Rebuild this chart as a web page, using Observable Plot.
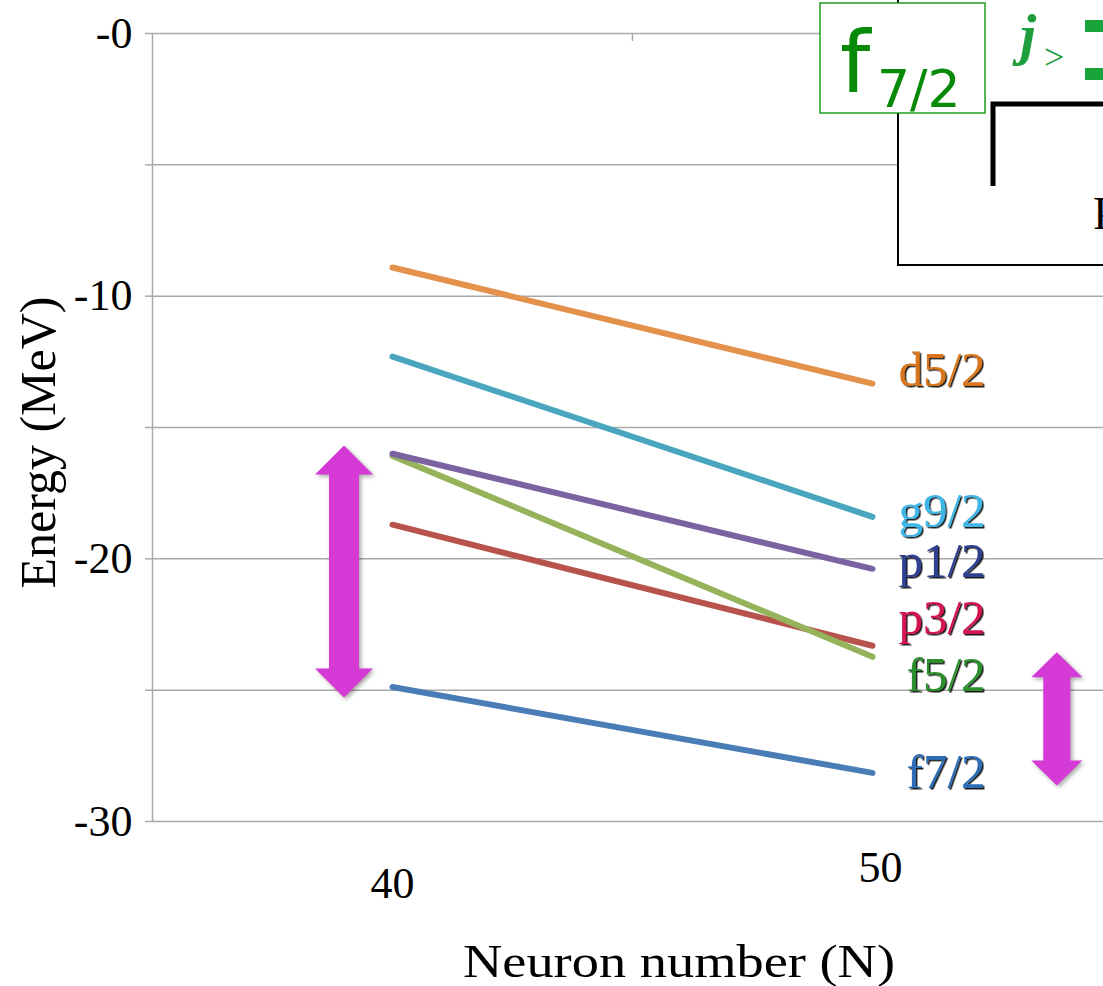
<!DOCTYPE html>
<html>
<head>
<meta charset="utf-8">
<script src="https://cdn.jsdelivr.net/npm/d3@7"></script>
<script src="https://cdn.jsdelivr.net/npm/@observablehq/plot@0.6"></script>
<style>
  html, body { margin: 0; padding: 0; background: #fff; }
  #chart svg { display: block; }
</style>
</head>
<body>
<div id="chart"></div>
<script>
// ---------- data ----------
const neutronNumbers = [40, 50];
const orbitals   = ["f7/2", "p3/2", "f5/2", "p1/2", "g9/2", "d5/2"];
const energyN40  = [-24.88, -18.70, -16.08, -16.00, -12.30, -8.91];
const energyN50  = [-28.15, -23.31, -23.73, -20.38, -18.40, -13.33];
const yTickValues = [-30, -25, -20, -15, -10, -5, 0];
const yTickLabels = ["-30", "", "-20", "", "-10", "", "-0"];
const xTickLabels = ["40", "50"];
const xTitle = "Neuron number (N)";
const yTitle = "Energy (MeV)";
// spin-orbit gap arrows (N position, upper energy, lower energy)
const gapArrowN      = [39.0, 53.85];
const gapArrowTop    = [-15.70, -23.58];
const gapArrowBottom = [-25.30, -28.65];

// ---------- styles ----------
const lineColors  = ["#4a7db5", "#b8524c", "#94b35a", "#7b63a1", "#4aa6bd", "#e3914b"];
const labelColors = ["#2e6db5", "#d3134f", "#2d8f2d", "#2e3f8f", "#41b6e6", "#d9751a"];
const labelNudge  = [-1, -27, 19, -8, -5, -13];   // px vertical offsets of end labels
const arrowSizes  = [{head: 58, headLen: 29, shaft: 30}, {head: 51, headLen: 25, shaft: 27}];
const serif = "'Liberation Serif', 'Times New Roman', serif";
const sans = "'DejaVu Sans', sans-serif";

// build tidy rows
const rows = [];
orbitals.forEach((o, i) => {
  rows.push({orbital: o, N: neutronNumbers[0], E: energyN40[i], order: i});
  rows.push({orbital: o, N: neutronNumbers[1], E: energyN50[i], order: i});
});
const yLabelFor = new Map(yTickValues.map((v, i) => [v, yTickLabels[i]]));

// custom mark: magenta double arrows
const gapArrows = (index, scales) => {
  const g = d3.create("svg:g")
    .attr("fill", "#d63ad6")
    .style("filter", "drop-shadow(2px 2px 2px rgba(0,0,0,0.35))");
  gapArrowN.forEach((n, i) => {
    const s = arrowSizes[i];
    const cx = scales.x(n), yt = scales.y(gapArrowTop[i]), yb = scales.y(gapArrowBottom[i]);
    const hw = s.head / 2, sw = s.shaft / 2, hl = s.headLen;
    const d = `M${cx},${yt}L${cx + hw},${yt + hl}L${cx + sw},${yt + hl}L${cx + sw},${yb - hl}` +
              `L${cx + hw},${yb - hl}L${cx},${yb}L${cx - hw},${yb - hl}L${cx - sw},${yb - hl}` +
              `L${cx - sw},${yt + hl}L${cx - hw},${yt + hl}Z`;
    g.append("path").attr("d", d);
  });
  return g.node();
};

// custom mark: the slide inset cut off at the top right
const slideInset = () => {
  const g = d3.create("svg:g").attr("text-anchor", "start");
  g.append("rect").attr("x", 898).attr("y", -10).attr("width", 240).attr("height", 275)
    .attr("fill", "white").attr("stroke", "black").attr("stroke-width", 2);
  g.append("path").attr("d", "M993,186V104H1120").attr("fill", "none")
    .attr("stroke", "black").attr("stroke-width", 5);
  g.append("text").attr("x", 1093).attr("y", 229).attr("font-family", serif)
    .attr("font-size", 46).attr("fill", "black").text("P");
  g.append("rect").attr("x", 820).attr("y", 3).attr("width", 165).attr("height", 110)
    .attr("fill", "white").attr("stroke", "#1f9a1f").attr("stroke-width", 1.5);
  g.append("text").attr("x", 840).attr("y", 92).attr("font-family", sans)
    .attr("font-size", 86).attr("fill", "#078a07").text("f");
  g.append("text").attr("x", 877).attr("y", 107).attr("font-family", sans)
    .attr("font-size", 52).attr("fill", "#078a07").text("7/2");
  g.append("text").attr("x", 1020).attr("y", 54).attr("font-family", serif)
    .attr("font-size", 58).attr("font-weight", "bold").attr("font-style", "italic")
    .attr("fill", "#1e9e3c").text("j");
  g.append("text").attr("x", 1044).attr("y", 69).attr("font-family", serif)
    .attr("font-size", 36).attr("fill", "#1e9e3c").text(">");
  g.append("rect").attr("x", 1085).attr("y", 20).attr("width", 30).attr("height", 12).attr("fill", "#1aa33a");
  g.append("rect").attr("x", 1085).attr("y", 68).attr("width", 30).attr("height", 12).attr("fill", "#1aa33a");
  return g.node();
};

const labelMarks = orbitals.map((o, i) =>
  Plot.text([o], {x: neutronNumbers[1], y: energyN50[i], textAnchor: "end", fontSize: 49,
    fontFamily: serif, fill: labelColors[i], dx: 113, dy: labelNudge[i]})
);

const chart = Plot.plot({
  width: 1103,
  height: 986,
  marginTop: 33,
  marginBottom: 165,
  marginLeft: 152,
  marginRight: 0,
  style: {fontFamily: serif, background: "white", color: "black"},
  x: {domain: [35, 54.8125]},
  y: {domain: [-30, 0]},
  marks: [
    Plot.ruleY(yTickValues, {stroke: "#a9a9a9", strokeWidth: 1.5}),
    Plot.ruleX([35], {stroke: "#a9a9a9", strokeWidth: 1.5}),
    Plot.axisY(yTickValues, {tickSize: 7, tickPadding: 13, stroke: "#a9a9a9", strokeWidth: 1.5,
      tickFormat: d => yLabelFor.get(d), fontSize: 44, fill: "black", label: null}),
    Plot.axisX([45], {anchor: "top", tickSize: 7, dy: 7, tickFormat: () => "", stroke: "#a9a9a9",
      strokeWidth: 1.5, label: null}),
    Plot.axisX([neutronNumbers[0]], {anchor: "bottom", tickSize: 0, tickPadding: 45, fontSize: 44,
      tickFormat: () => xTickLabels[0], label: null}),
    Plot.axisX([neutronNumbers[1]], {anchor: "bottom", tickSize: 0, tickPadding: 29, dx: 8, fontSize: 44,
      tickFormat: () => xTickLabels[1], label: null}),
    Plot.text([xTitle], {frameAnchor: "bottom", textAnchor: "middle", lineAnchor: "middle",
      dx: 51, dy: 140.5, fontSize: 46}),
    Plot.text([yTitle], {frameAnchor: "left", textAnchor: "middle", lineAnchor: "middle",
      rotate: -90, dx: -114, dy: 15, fontSize: 50}),
    Plot.line(rows, {x: "N", y: "E", z: "orbital",
      stroke: d => lineColors[d.order], strokeWidth: 6, strokeLinecap: "round"}),
    ...labelMarks,
    gapArrows,
    slideInset
  ]
});

// black offset shadow behind the orbital labels, and the wide axis title
const svg = d3.select(chart);
svg.insert("defs", ":first-child")
  .append("filter").attr("id", "lblShadow")
  .attr("x", "-10%").attr("y", "-10%").attr("width", "130%").attr("height", "130%")
  .append("feDropShadow").attr("dx", 1.5).attr("dy", 1.5).attr("stdDeviation", 0.3)
  .attr("flood-color", "black").attr("flood-opacity", 0.9);
svg.selectAll("text").each(function () {
  const t = this.textContent;
  if (orbitals.includes(t)) this.setAttribute("filter", "url(#lblShadow)");
  if (t === xTitle) {
    this.setAttribute("textLength", 432);
    this.setAttribute("lengthAdjust", "spacingAndGlyphs");
  }
});
document.getElementById("chart").append(chart);
</script>
</body>
</html>
